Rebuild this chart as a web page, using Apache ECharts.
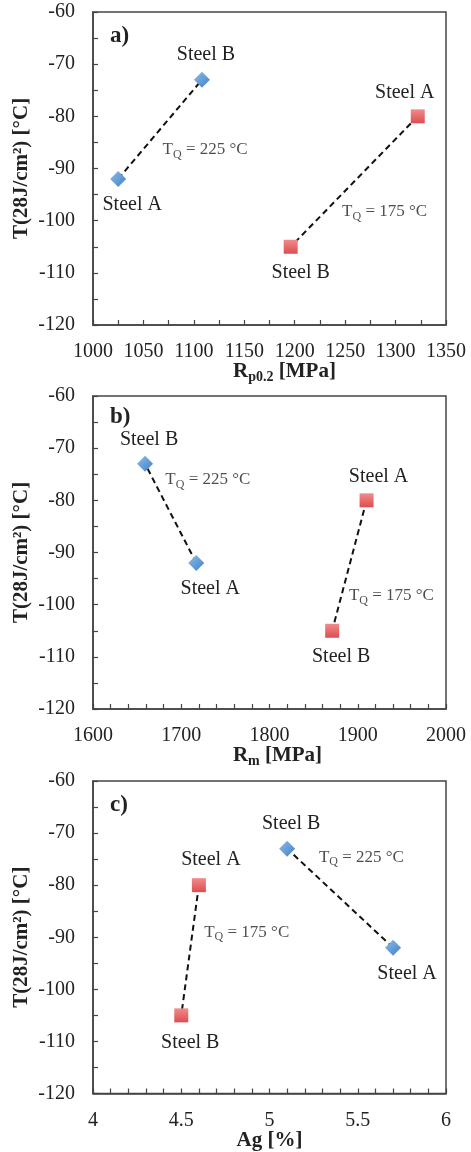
<!DOCTYPE html>
<html>
<head>
<meta charset="utf-8">
<title>T(28J/cm2) vs Rp0.2, Rm, Ag</title>
<script src="https://cdn.jsdelivr.net/npm/echarts@6/dist/echarts.min.js"></script>
<style>
  html, body { margin: 0; padding: 0; background: #fff; }
  #main { width: 471px; height: 1152px; }
</style>
</head>
<body>
<div id="main"></div>
<script>
// 数据：每个面板两种钢（Steel A / Steel B），两个回火温度
var steelNames = ['Steel A', 'Steel B'];
var tempBlue = [-92, -73];    // TQ = 225 °C
var tempRed = [-80, -105];    // TQ = 175 °C
var noteBlue = 'T{s|Q}{t| = 225 °C}';
var noteRed = 'T{s|Q}{t| = 175 °C}';

// a) Rp0.2 [MPa]
var rpBlue = [1025, 1108];
var rpRed = [1322, 1196];
// b) Rm [MPa]
var rmBlue = [1717, 1659];
var rmRed = [1910, 1871];
// c) Ag [%]
var agBlue = [5.7, 5.1];
var agRed = [4.6, 4.5];

// 轴范围 [min, max, interval, minor split]
var xRanges = [[1000, 1350, 50, 2], [1600, 2000, 100, 5], [4, 6, 0.5, 5]];
var yRange = [-120, -60, 10];

// 布局（非数据）：网格位置、标注偏移
var gridTops = [12, 396, 781];
var panelTags = ['a)', 'b)', 'c)'];
var tagTops = [20, 401, 789];
var xNames = ['{b|R}{s|p0.2}{b| [MPa]}', '{b|R}{s|m}{b| [MPa]}', '{b|Ag [%]}'];
var xNamePad = [30, 16, 0];
// 点标签偏移 [dx, dy]，顺序同 steelNames
var blueOffs = [
	[[14, 26], [4, -25]],
	[[14, 26], [4, -24]],
	[[14, 26], [4, -25]]
];
var redOffs = [
	[[-13, -24], [10, 26]],
	[[12, -24], [9, 26]],
	[[12, -25], [9, 27]]
];
// T_Q 注释的锚点（数据坐标，文字左对齐）
var notePos = [
	[[1069, -86.4], [1247, -98.3]],
	[[1682, -76.1], [1890, -98.3]],
	[[5.28, -74.6], [4.63, -89.0]]
];

var serif = '"Liberation Serif", "DejaVu Serif", serif';
var blueFill = new echarts.graphic.LinearGradient(0, 0, 1, 1, [
	{offset: 0, color: '#8fbbe6'}, {offset: 1, color: '#3f82c9'}
]);
var redFill = new echarts.graphic.LinearGradient(0, 0, 0, 1, [
	{offset: 0, color: '#f28c8c'}, {offset: 1, color: '#dc4d50'}
]);

var xSets = [[rpBlue, rpRed], [rmBlue, rmRed], [agBlue, agRed]];

function pointData(xs, ys, offs) {
	var out = [];
	for (var i = 0; i < xs.length; i++) {
		out.push({
			value: [xs[i], ys[i]],
			name: steelNames[i],
			label: {offset: offs[i]}
		});
	}
	return out;
}

var grids = [], xAxes = [], yAxes = [], series = [], titles = [];

for (var p = 0; p < 3; p++) {
	grids.push({
		left: 93, width: 353, top: gridTops[p], height: 313,
		show: true, borderColor: '#444', borderWidth: 1.5, backgroundColor: 'transparent'
	});
	titles.push({
		text: panelTags[p], left: 105, top: tagTops[p],
		textStyle: {fontFamily: serif, fontWeight: 'bold', fontSize: 23, color: '#222'}
	});
	xAxes.push({
		type: 'value', gridIndex: p,
		min: xRanges[p][0], max: xRanges[p][1], interval: xRanges[p][2],
		name: xNames[p], nameLocation: 'middle', nameGap: 35, nameMoveOverlap: false,
		nameTextStyle: {
			padding: [0, 0, 0, xNamePad[p]],
			rich: {
				b: {fontFamily: serif, fontWeight: 'bold', fontSize: 21, color: '#222', lineHeight: 24},
				s: {fontFamily: serif, fontWeight: 'bold', fontSize: 14, color: '#222', verticalAlign: 'bottom', lineHeight: 18}
			}
		},
		axisLine: {show: true, lineStyle: {color: '#444', width: 1.5}},
		axisTick: {show: true, inside: true, length: 5, lineStyle: {color: '#444', width: 1.2}},
		minorTick: {show: true, splitNumber: xRanges[p][3], length: 5, lineStyle: {color: '#444', width: 1.2}},
		axisLabel: {
			margin: 17, fontFamily: serif, fontSize: 20, color: '#222',
			formatter: function (v) { return String(v); }
		},
		splitLine: {show: false}
	});
	yAxes.push({
		type: 'value', gridIndex: p,
		min: yRange[0], max: yRange[1], interval: yRange[2],
		name: 'T(28J/cm²) [°C]', nameLocation: 'middle', nameGap: 61, nameMoveOverlap: false,
		nameTextStyle: {fontFamily: serif, fontWeight: 'bold', fontSize: 21, color: '#222'},
		axisLine: {show: true, lineStyle: {color: '#444', width: 1.5}},
		axisTick: {show: true, inside: true, length: 5, lineStyle: {color: '#444', width: 1.2}},
		minorTick: {show: true, splitNumber: 2, length: 5, lineStyle: {color: '#444', width: 1.2}},
		axisLabel: {margin: 18, fontFamily: serif, fontSize: 20, color: '#222'},
		splitLine: {show: false}
	});

	var xb = xSets[p][0], xr = xSets[p][1];

	// TQ = 225 °C（菱形 + 虚线）
	series.push({
		type: 'line', xAxisIndex: p, yAxisIndex: p, z: 3,
		symbol: 'diamond', symbolSize: 16, showSymbol: true,
		itemStyle: {color: blueFill},
		lineStyle: {color: '#111', width: 2, type: [6, 4]},
		label: {
			show: true, position: 'inside', formatter: '{b}',
			fontFamily: serif, fontSize: 20, color: '#222'
		},
		data: pointData(xb, tempBlue, blueOffs[p])
	});
	// TQ = 175 °C（方形 + 虚线）
	series.push({
		type: 'line', xAxisIndex: p, yAxisIndex: p, z: 3,
		symbol: 'rect', symbolSize: 14, showSymbol: true,
		itemStyle: {color: redFill},
		lineStyle: {color: '#111', width: 2, type: [6, 4]},
		label: {
			show: true, position: 'inside', formatter: '{b}',
			fontFamily: serif, fontSize: 20, color: '#222'
		},
		data: pointData(xr, tempRed, redOffs[p])
	});

	// 注释文字
	series.push({
		type: 'scatter', xAxisIndex: p, yAxisIndex: p, z: 4, silent: true,
		symbolSize: 0,
		label: {
			show: true, position: 'right', distance: 0,
			formatter: function (prm) { return prm.name; },
			fontFamily: serif, fontSize: 17, color: '#222',
			rich: {
				s: {fontFamily: serif, fontSize: 12, color: '#222', verticalAlign: 'bottom', lineHeight: 22},
				t: {fontFamily: serif, fontSize: 17, color: '#222'}
			}
		},
		data: [
			{value: notePos[p][0], name: noteBlue},
			{value: notePos[p][1], name: noteRed}
		]
	});
}

var myChart = echarts.init(document.getElementById('main'), null, {renderer: 'canvas'});
myChart.setOption({
	animation: false,
	backgroundColor: '#fff',
	title: titles,
	grid: grids,
	xAxis: xAxes,
	yAxis: yAxes,
	series: series
});
</script>
</body>
</html>
